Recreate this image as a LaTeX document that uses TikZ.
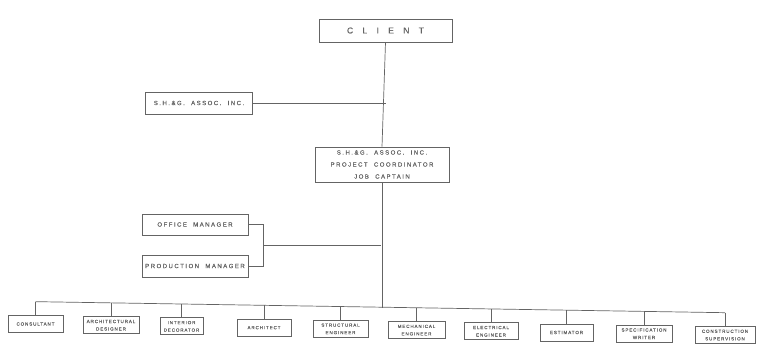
\documentclass[tikz,border=0pt]{standalone}
\usepackage{fontspec}
\setmainfont{Liberation Sans}
\newfontfamily\wideletters[LetterSpace=110, FakeBold=0.4]{Liberation Sans}
\newfontfamily\midletters[LetterSpace=25, WordSpace=2, FakeBold=0.4]{Liberation Sans}
\newfontfamily\smallletters[LetterSpace=20, WordSpace=2, FakeBold=0.3]{Liberation Sans}
\usetikzlibrary{positioning}
\definecolor{inkgray}{RGB}{100,100,100}
\definecolor{lettergray}{RGB}{100,100,100}

\begin{document}
\begin{tikzpicture}[x=1pt, y=-1pt, line width=0.7pt, color=inkgray,
  chartbox/.style={draw=inkgray, inner sep=0pt, align=center, text=lettergray},
  headbox/.style={chartbox, minimum width=133, minimum height=23, font=\wideletters\fontsize{8.5}{10}\selectfont},
  midbox/.style={chartbox, minimum width=107, minimum height=22, font=\midletters\fontsize{6}{12}\selectfont},
  staffbox/.style={chartbox, minimum height=17, font=\smallletters\fontsize{4.5}{7.5}\selectfont}]
  \fill[white] (0,0) rectangle (761,345);
  \useasboundingbox (0,0) rectangle (761,345);

  \node[headbox] (client) at (385.5,30.5) {CLIENT};
  \node[midbox] (shg) at (199,103) {S.H.\&G. ASSOC. INC.};
  \node[midbox, minimum width=134, minimum height=35] (coord) at (382,164.5)
    {S.H.\&G. ASSOC. INC.\\PROJECT COORDINATOR\\JOB CAPTAIN};
  \node[midbox, minimum width=106, minimum height=21] (office) at (195,224.5) {OFFICE MANAGER};
  \node[midbox, minimum width=106] (prod) at (195,266) {PRODUCTION MANAGER};

  \draw (client.south) -- (coord.north);
  \draw (shg.east) -- (shg.east -| client.south);
  \draw (office.east) -- ++(15,0) coordinate (brk) |- (prod.east);
  \draw (brk |- 0,245) -- (381,245);

  \foreach \cx/\w/\name/\txt in {35.5/55/consult/CONSULTANT,
      111/56/archdes/{ARCHITECTURAL\\DESIGNER},
      181.5/43/interior/{INTERIOR\\DECORATOR},
      264/54/architect/ARCHITECT,
      340.5/55/struct/{STRUCTURAL\\ENGINEER},
      416.5/57/mech/{MECHANICAL\\ENGINEER},
      491/54/elec/{ELECTRICAL\\ENGINEER},
      566.5/53/estim/ESTIMATOR,
      644/56/spec/{SPECIFICATION\\WRITER},
      725/60/constr/{CONSTRUCTION\\SUPERVISION}} {
    \pgfmathsetmacro\busy{302+(\cx-35)*0.016}
    \node[staffbox, minimum width=\w] (\name) at (\cx,\busy+22) {\txt};
    \draw (\name.north) -- ++(0,-13.5) coordinate (\name-bus);
  }
  \draw (consult-bus) -- (constr-bus);
  \coordinate (mainfoot) at (382,307.6);
  \draw (coord.south) -- (mainfoot);
\end{tikzpicture}
\end{document}
